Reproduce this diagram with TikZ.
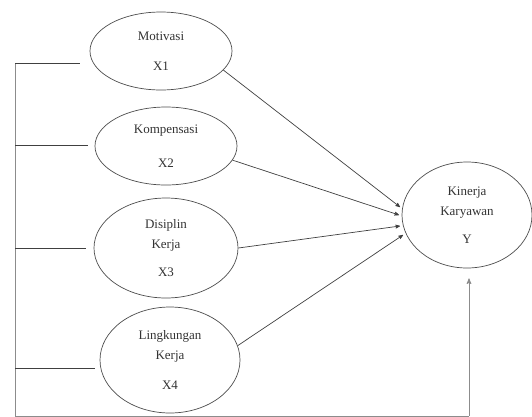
\documentclass[tikz,border=0pt]{standalone}
\usepackage{fontspec}
\setmainfont{Liberation Serif}
\usetikzlibrary{arrows,positioning,shapes.geometric}

\begin{document}
\begin{tikzpicture}[x=1pt,y=-1pt,>=stealth',
  construct/.style={ellipse,draw=black!70,line width=0.7pt,inner sep=0pt,align=center,
    font=\fontsize{13}{20}\selectfont,text=black!80},
  link/.style={draw=black!75,line width=0.7pt},
  bus/.style={draw=black!45,line width=1pt}]
  \useasboundingbox (0,0) rectangle (532,416);
  \node[construct,minimum width=142,minimum height=78]  (motivasi)   at (161,51)  {Motivasi\\[10pt]X1};
  \node[construct,minimum width=142,minimum height=78]  (kompensasi) at (166,146) {Kompensasi\\[14pt]X2};
  \node[construct,minimum width=144,minimum height=100] (disiplin)   at (166,248) {Disiplin\\Kerja\\[8pt]X3};
  \node[construct,minimum width=140,minimum height=106] (lingkungan) at (170,360) {Lingkungan\\Kerja\\[10pt]X4};
  \node[construct,minimum width=130,minimum height=106] (kinerja)    at (467,215) {Kinerja\\Karyawan\\[8pt]Y};
  % bus on the left
  \coordinate (b1) at (15,63);
  \coordinate (b2) at (15,145);
  \coordinate (b3) at (15,248);
  \coordinate (b4) at (15,368);
  \coordinate (bl) at (15,416);
  \coordinate (br) at (469,416);
  \draw[bus] (b1) -- (bl) -- (br);
  \draw[bus,->,shorten >=10pt] (br) -- (br |- kinerja.south);
  \draw[link,shorten >=10pt] (b1) -- (b1 -| motivasi.west);
  \draw[link,shorten >=7pt]  (b2) -- (b2 -| kompensasi.west);
  \draw[link,shorten >=8pt]  (b3) -- (b3 -| disiplin.west);
  \draw[link,shorten >=5pt]  (b4) -- (b4 -| lingkungan.west);
  % paths into Y
  \coordinate (t1) at (400,207);
  \coordinate (t2) at (399,215);
  \coordinate (t3) at (400,226);
  \coordinate (t4) at (403,235);
  \draw[link,->] (motivasi.-17)   -- (t1);
  \draw[link,->] (kompensasi.-12) -- (t2);
  \draw[link,->] (disiplin.east)  -- (t3);
  \draw[link,->] (lingkungan.12)  -- (t4);
\end{tikzpicture}
\end{document}
